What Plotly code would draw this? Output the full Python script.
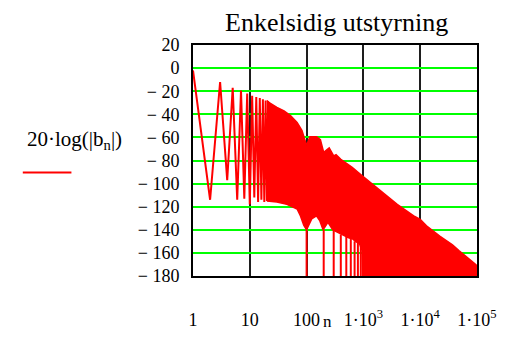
import plotly.graph_objects as go

# ---------------- data ----------------
# individual harmonics (low n), dB
n_low = list(range(1, 22))
db_low = [-2, -114, -12, -97, -17, -114, -19.5, -113, -22, -118, -24,
          -112, -25, -116, -26, -114, -27, -116, -28, -115, -28.5]

# upper envelope of the dense part of the spectrum
upper_n = [20, 22, 30, 40, 52, 68, 83, 94, 100, 114, 150, 175, 200, 250,
           300, 330, 400, 490, 634, 942, 1400, 2060, 2700, 3940, 7700,
           10000, 12900, 22100, 37000, 48000, 92000, 100000]
upper_db = [-28, -30, -34, -37, -41, -47, -54, -63, -67, -59.5, -59.5, -62,
            -73, -69, -76, -75, -79, -82, -86, -93, -100, -107, -111, -118,
            -128, -131, -136.5, -145.5, -153, -158, -169.5, -171]

# lower envelope of the dense part of the spectrum
lower_n = [20, 30, 45, 68, 78, 89, 100, 123, 149, 170, 195, 237, 290, 375,
           450, 550, 650, 720, 850, 950, 1000, 100000]
lower_db = [-115, -116, -118, -122, -128, -136, -140, -130.6, -128, -132,
            -140, -133.5, -140, -143, -145, -147, -148, -150, -152, -158,
            -200, -200]

# deep notches (multiples of 100)
notch_n = [100, 200, 300, 400, 500, 600, 700, 800, 900]
notch_db = [-140, -140, -140, -144, -146, -148, -150, -151, -154]
notch_floor = -200

x_tickvals = [1, 10, 100, 1000, 10000, 100000]
x_ticktext = ["1", "10", "100", "1·10<sup>3</sup>", "1·10<sup>4</sup>", "1·10<sup>5</sup>"]
y_tickvals = list(range(-180, 21, 20))
y_ticktext = [("− " + str(-v)) if v < 0 else str(v) for v in y_tickvals]

title_text = "Enkelsidig utstyrning"
ylabel_text = "20·log(|b<sub>n</sub>|)"
xlabel_text = "n"

RED = "#FF0000"
FONT = "Liberation Serif"

# ---------------- figure ----------------
W, H = 509, 342
L, R, T, B = 193, 24, 45, 58
PW, PH = W - L - R, H - T - B


def px(x):
    return (x - L) / PW


def py(y):
    return (H - B - y) / PH


fig = go.Figure()

fig.add_trace(go.Scatter(x=lower_n, y=lower_db, mode="lines",
                         line=dict(color=RED, width=1.5), hoverinfo="skip"))
fig.add_trace(go.Scatter(x=upper_n, y=upper_db, mode="lines", fill="tonexty",
                         fillcolor=RED, line=dict(color=RED, width=1.5),
                         hoverinfo="skip"))

nx, ny = [], []
for n, d in zip(notch_n, notch_db):
    nx += [n, n, None]
    ny += [d, notch_floor, None]
fig.add_trace(go.Scatter(x=nx, y=ny, mode="lines",
                         line=dict(color=RED, width=2), hoverinfo="skip"))

fig.add_trace(go.Scatter(x=n_low, y=db_low, mode="lines",
                         line=dict(color=RED, width=2), hoverinfo="skip"))

fig.update_layout(
    width=W, height=H,
    margin=dict(l=L, r=R, t=T, b=B),
    paper_bgcolor="white", plot_bgcolor="white",
    showlegend=False,
    font=dict(family=FONT, size=18, color="black"),
)

fig.update_xaxes(type="log", range=[0, 5], tickvals=x_tickvals, ticktext=x_ticktext,
                 showgrid=True, gridcolor="#1e1e1e", gridwidth=2,
                 showline=True, linecolor="black", linewidth=2, mirror=True,
                 ticks="", ticklabelstandoff=26, zeroline=False,
                 tickfont=dict(family=FONT, size=18))
fig.update_yaxes(range=[-180, 20], tickvals=y_tickvals, ticktext=y_ticktext,
                 showgrid=True, gridcolor="#00FF00", gridwidth=2,
                 showline=True, linecolor="black", linewidth=2, mirror=True,
                 ticks="", ticklabelstandoff=8, zeroline=False,
                 tickfont=dict(family=FONT, size=18))

fig.add_annotation(text=title_text, xref="paper", yref="paper",
                   x=px(340.5), y=py(22), xanchor="center", yanchor="middle",
                   showarrow=False, font=dict(family=FONT, size=26))
fig.add_annotation(text=ylabel_text, xref="paper", yref="paper",
                   x=px(20), y=py(143), xanchor="left", yanchor="middle",
                   showarrow=False, font=dict(family=FONT, size=21))
fig.add_annotation(text=xlabel_text, xref="paper", yref="paper",
                   x=px(331), y=py(342), xanchor="center", yanchor="bottom",
                   borderpad=0, showarrow=False, font=dict(family=FONT, size=17))
fig.add_shape(type="line", xref="paper", yref="paper",
              x0=px(18), x1=px(68), y0=py(177), y1=py(177),
              line=dict(color=RED, width=2))

fig.write_html("out.html")
